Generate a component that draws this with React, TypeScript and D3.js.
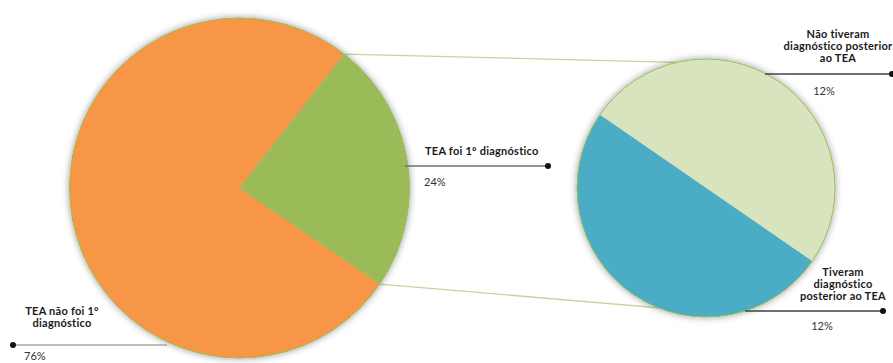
import React from "react";
import * as d3 from "d3";

// Primary pie: share of cases where TEA was (not) the first diagnosis
const mainCategories = ["TEA não foi 1º diagnóstico", "TEA foi 1º diagnóstico"];
const mainValues = [76, 24];
const mainColors = ["#F79646", "#9BBB59"];

// Secondary pie: breakdown of the "TEA foi 1º diagnóstico" slice
const subCategories = ["Não tiveram diagnóstico posterior ao TEA", "Tiveram diagnóstico posterior ao TEA"];
const subValues = [12, 12];
const subColors = ["#D7E4BD", "#4BACC6"];

const W = 893;
const H = 363;
const deg = Math.PI / 180;

const main = { cx: 239.5, cy: 188, r: 170, start: 124.4 * deg };
const sub = { cx: 706, cy: 188, r: 129, start: -55.4 * deg };

const pct = d3.format(".0f");

function pt(cx: number, cy: number, r: number, a: number): [number, number] {
  return [cx + r * Math.sin(a), cy - r * Math.cos(a)];
}

type LabelProps = {
  lines: string[];
  x: number;
  y: number;
  anchor: "start" | "middle";
};

function BoldLabel({ lines, x, y, anchor }: LabelProps) {
  return (
    <text
      x={x}
      y={y}
      textAnchor={anchor}
      fontFamily="Lato, 'DejaVu Sans', sans-serif"
      fontWeight={700}
      fontSize={11}
      letterSpacing={0.25}
      fill="#1a1a1a"
    >
      {lines.map((l, i) => (
        <tspan key={i} x={x} dy={i === 0 ? 0 : 12}>
          {l}
        </tspan>
      ))}
    </text>
  );
}

export default function App() {
  const mainPie = d3
    .pie<number>()
    .sort(null)
    .startAngle(main.start)
    .endAngle(main.start + 2 * Math.PI)(mainValues);
  const subPie = d3
    .pie<number>()
    .sort(null)
    .startAngle(sub.start)
    .endAngle(sub.start + 2 * Math.PI)(subValues);

  const mainArc = d3.arc<d3.PieArcDatum<number>>().innerRadius(0).outerRadius(main.r);
  const subArc = d3.arc<d3.PieArcDatum<number>>().innerRadius(0).outerRadius(sub.r);

  const total = d3.sum(mainValues);
  const green = mainPie[1];

  // Connector lines from the split slice to the secondary pie
  const c1a = pt(main.cx, main.cy, main.r, green.startAngle);
  const c1b = pt(sub.cx, sub.cy, sub.r, -13 * deg);
  const c2a = pt(main.cx, main.cy, main.r, green.endAngle);
  const c2b = pt(sub.cx, sub.cy, sub.r, 168 * deg);

  const leader = (x1: number, x2: number, y: number, dotX: number, color: string) => (
    <g>
      <line x1={x1} x2={x2} y1={y} y2={y} stroke={color} strokeWidth={1.3} />
      <circle cx={dotX} cy={y} r={3} fill="#111" />
    </g>
  );

  return (
    <svg
      width={W}
      height={H}
      style={{ position: "absolute", left: 0, top: 0, background: "#fff" }}
    >
      <defs>
        <filter id="pieShadow" x="-10%" y="-10%" width="120%" height="120%">
          <feGaussianBlur in="SourceAlpha" stdDeviation="3.5" />
          <feOffset dx="0" dy="0" result="blur" />
          <feFlood floodColor="#000" floodOpacity="0.4" />
          <feComposite in2="blur" operator="in" />
          <feMerge>
            <feMergeNode />
            <feMergeNode in="SourceGraphic" />
          </feMerge>
        </filter>
      </defs>

      <line x1={c1a[0]} y1={c1a[1]} x2={c1b[0]} y2={c1b[1]} stroke="#C3D69B" strokeWidth={1.3} />
      <line x1={c2a[0]} y1={c2a[1]} x2={c2b[0]} y2={c2b[1]} stroke="#C3D69B" strokeWidth={1.3} />

      <g transform={`translate(${main.cx},${main.cy})`} filter="url(#pieShadow)">
        {mainPie.map((d, i) => (
          <path key={i} d={mainArc(d) || ""} fill={mainColors[i]} />
        ))}
        <circle r={main.r} fill="none" stroke="#9BBB59" strokeWidth={1} />
      </g>

      <g transform={`translate(${sub.cx},${sub.cy})`} filter="url(#pieShadow)">
        {subPie.map((d, i) => (
          <path key={i} d={subArc(d) || ""} fill={subColors[i]} />
        ))}
        <circle r={sub.r} fill="none" stroke="#9BBB59" strokeWidth={1} />
      </g>

      {/* TEA não foi 1º diagnóstico */}
      {leader(13, 167, 345, 13, "#a6a6a6")}
      <BoldLabel lines={["TEA não foi 1º", "diagnóstico"]} x={62} y={315} anchor="middle" />
      <text x={24} y={360} fontFamily="Lato, sans-serif" fontSize={11} fill="#333">
        {pct((mainValues[0] / total) * 100)}%
      </text>

      {/* TEA foi 1º diagnóstico */}
      {leader(405, 548, 166, 548, "#707070")}
      <BoldLabel lines={[mainCategories[1]]} x={425} y={155} anchor="start" />
      <text x={424} y={186} fontFamily="Lato, sans-serif" fontSize={11} fill="#333">
        {pct((mainValues[1] / total) * 100)}%
      </text>

      {/* Não tiveram diagnóstico posterior ao TEA */}
      {leader(765, 892, 74, 892, "#404040")}
      <BoldLabel lines={["Não tiveram", "diagnóstico posterior", "ao TEA"]} x={838} y={38} anchor="middle" />
      <text x={824} y={95} textAnchor="middle" fontFamily="Lato, sans-serif" fontSize={11} fill="#333">
        {pct(subValues[0])}%
      </text>

      {/* Tiveram diagnóstico posterior ao TEA */}
      {leader(745, 883, 311, 883, "#404040")}
      <BoldLabel lines={["Tiveram", "diagnóstico", "posterior ao TEA"]} x={843} y={276} anchor="middle" />
      <text x={822} y={330} textAnchor="middle" fontFamily="Lato, sans-serif" fontSize={11} fill="#333">
        {pct(subValues[1])}%
      </text>
    </svg>
  );
}
